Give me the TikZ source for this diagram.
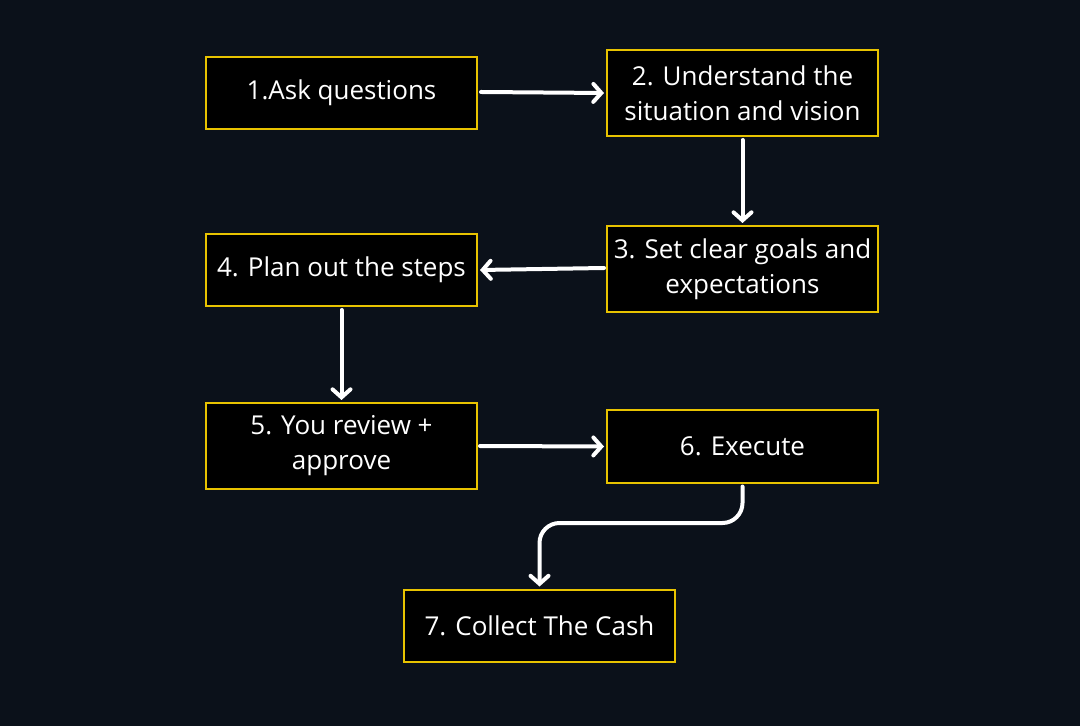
\documentclass[tikz,border=0pt]{standalone}
\usepackage{fontspec}
\setmainfont{Open Sans}
\usetikzlibrary{arrows.meta}
\definecolor{bgnavy}{HTML}{0B111A}
\definecolor{boxgold}{HTML}{E8C300}

\begin{document}
\begin{tikzpicture}[
	x=0.5pt, y=-0.5pt,
	stepbox/.style={ draw=boxgold, line width=1pt, fill=black, text=white, align=center,
		minimum width=135.5pt, minimum height=36pt, inner sep=0pt,
		font=\fontsize{13}{17.5}\selectfont },
	stepboxtall/.style={ stepbox, minimum height=43pt },
	flow/.style={ white, line width=2pt, line cap=round, -{Straight Barb[length=4pt,width=9pt,line cap=round]} }
]

\fill[bgnavy] (0,0) rectangle (1080,726);
\useasboundingbox (0,0) rectangle (1080,726);

\node at (341.5,93) (ask) [stepbox] {1.Ask questions};
\node at (742.5,93) (understand) [stepboxtall] {2. Understand the\\situation and vision};
\node at (742.5,269) (goals) [stepboxtall] {3. Set clear goals and\\expectations};
\node at (341.5,270) (plan) [stepbox] {4. Plan out the steps};
\node at (341.5,446) (review) [stepboxtall] {5. You review +\\approve};
\node at (742.5,446.5) (execute) [stepbox] {6. Execute};
\node at (539.5,625.5) (cash) [stepbox] {7. Collect The Cash};

\draw[flow] ([xshift=1.5pt,yshift=0.5pt]ask.east) -- ([xshift=-1pt]understand.west);
\draw[flow] ([yshift=-1.5pt]understand.south) -- ([yshift=1pt]goals.north);
\draw[flow] ([xshift=-1pt,yshift=0.5pt]goals.west) -- ([xshift=1pt]plan.east);
\draw[flow] ([yshift=-1.5pt]plan.south) -- ([yshift=1pt]review.north);
\draw[flow] ([xshift=1pt]review.east) -- ([xshift=-1pt]execute.west);
\draw[flow, rounded corners=10pt] ([yshift=-1.5pt]execute.south) |- (640,523) -| ([yshift=1pt]cash.north);

\end{tikzpicture}
\end{document}
